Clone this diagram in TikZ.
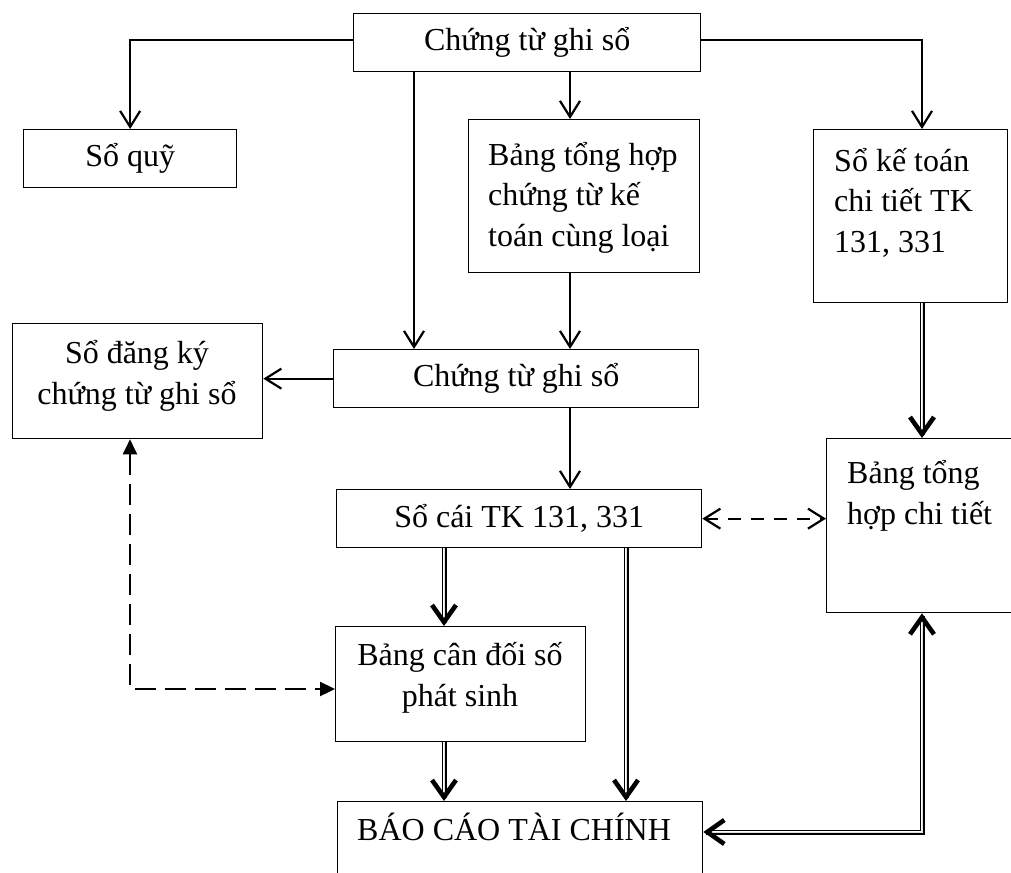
\documentclass[tikz,border=0pt]{standalone}
\usepackage{fontspec}
\setmainfont{Liberation Serif}
\usetikzlibrary{arrows.meta}
\newcommand{\diagfont}{\fontsize{32}{40.5}\selectfont}
\begin{document}
\begin{tikzpicture}[x=1pt,y=-1pt,
  box/.style={draw, line width=1.3pt, inner sep=0pt, anchor=north west, font=\diagfont},
  txt/.style={inner sep=0pt, font=\diagfont},
  ln/.style={line width=2.1pt, -{Straight Barb[length=16pt,width=20pt,line width=2.2pt]}},
  dbl/.style={double, double distance=2.2pt, line width=1.4pt},
  dtip/.style={line width=0.01pt, -{Straight Barb[length=17pt,width=24pt,line width=4.6pt]}},
  dtiptwo/.style={line width=0.01pt, {Straight Barb[length=17pt,width=24pt,line width=4.6pt]}-{Straight Barb[length=17pt,width=24pt,line width=4.6pt]}},
  dsh/.style={line width=2.1pt, dash pattern=on 13pt off 10pt, {Straight Barb[length=16pt,width=20pt,line width=2.2pt]}-{Straight Barb[length=16pt,width=20pt,line width=2.2pt]}},
  dshf/.style={line width=2.3pt, dash pattern=on 21pt off 9pt, {Triangle[length=15pt,width=14pt]}-{Triangle[length=15pt,width=14pt]}}
]
\useasboundingbox (0,0) rectangle (1011,872);
\clip (0,0) rectangle (1011,872);
\fill[white] (0,0) rectangle (1011,872);

% column coordinates
\coordinate (c1) at (414,0);
\coordinate (c2) at (570,0);
\coordinate (c3) at (922,0);
\coordinate (c4) at (444,0);
\coordinate (c5) at (626,0);
\coordinate (r) at (922,832);
\coordinate (d) at (130,689);

% boxes
\node[box, minimum width=347, minimum height=58] (top) at (353,13) {Chứng từ ghi sổ};
\node[box, minimum width=213, minimum height=58] (soquy) at (23,129) {Sổ quỹ};
\node[box, minimum width=231, minimum height=153] (bth) at (468,119) {};
\node[box, minimum width=194, minimum height=173] (sokt) at (813,129) {};
\node[box, minimum width=250, minimum height=115] (sodk) at (12,323) {};
\node[box, minimum width=365, minimum height=58] (ctgs) at (333,349) {Chứng từ ghi sổ};
\node[box, minimum width=365, minimum height=58] (socai) at (336,489) {Sổ cái TK 131, 331};
\node[box, minimum width=230, minimum height=174] (bthct) at (826,438) {};
\node[box, minimum width=250, minimum height=115] (bcd) at (335,626) {};
\node[box, minimum width=365, minimum height=120] (bctc) at (337,801) {};

% texts (base anchor = baseline of the last line)
\node[txt, anchor=base west, align=left] (tbth) at (488,246) {Bảng tổng hợp\\chứng từ kế\\toán cùng loại};
\node[txt, anchor=base west, align=left] (tsokt) at (834,252) {Sổ kế toán\\chi tiết TK\\131, 331};
\node[txt, anchor=base, align=center] (tsodk) at (137,404) {Sổ đăng ký\\chứng từ ghi sổ};
\node[txt, anchor=base west, align=left] (tbthct) at (847,524) {Bảng tổng\\hợp chi tiết};
\node[txt, anchor=base, align=center] (tbcd) at (460,706) {Bảng cân đối số\\phát sinh};
\node[txt, anchor=base west] (tbctc) at (357,840) {BÁO CÁO TÀI CHÍNH};

% single arrows
\draw[ln] ([yshift=3pt]top.west) -| (soquy.north);
\draw[ln] ([yshift=3pt]top.east) -| (sokt.north -| c3);
\draw[ln] (top.south -| c2) -- (bth.north -| c2);
\draw[ln] (top.south -| c1) -- (ctgs.north -| c1);
\draw[ln] (bth.south -| c2) -- (ctgs.north -| c2);
\draw[ln] (ctgs.west) -- (ctgs.west -| sodk.east);
\draw[ln] (ctgs.south -| c2) -- (socai.north -| c2);

% double arrows
\draw[dbl, shorten >=3pt] (sokt.south -| c3) -- (bthct.north -| c3);
\draw[dtip] (sokt.south -| c3) -- (bthct.north -| c3);
\draw[dbl, shorten >=3pt] (socai.south -| c4) -- (bcd.north -| c4);
\draw[dtip] (socai.south -| c4) -- (bcd.north -| c4);
\draw[dbl, shorten >=3pt] (bcd.south -| c4) -- (bctc.north -| c4);
\draw[dtip] (bcd.south -| c4) -- (bctc.north -| c4);
\draw[dbl, shorten >=3pt] (socai.south -| c5) -- (bctc.north -| c5);
\draw[dtip] (socai.south -| c5) -- (bctc.north -| c5);
\draw[dbl, shorten >=3pt, shorten <=3pt] (bctc.east |- r) -- (r) -- (bthct.south -| r);
\draw[dtiptwo] (bctc.east |- r) -- (r) -- (bthct.south -| r);

% dashed arrows
\draw[dsh] (socai.east) -- (socai.east -| bthct.west);
\draw[dshf] (sodk.south -| d) -- (d) -- (bcd.west |- d);
\end{tikzpicture}
\end{document}
